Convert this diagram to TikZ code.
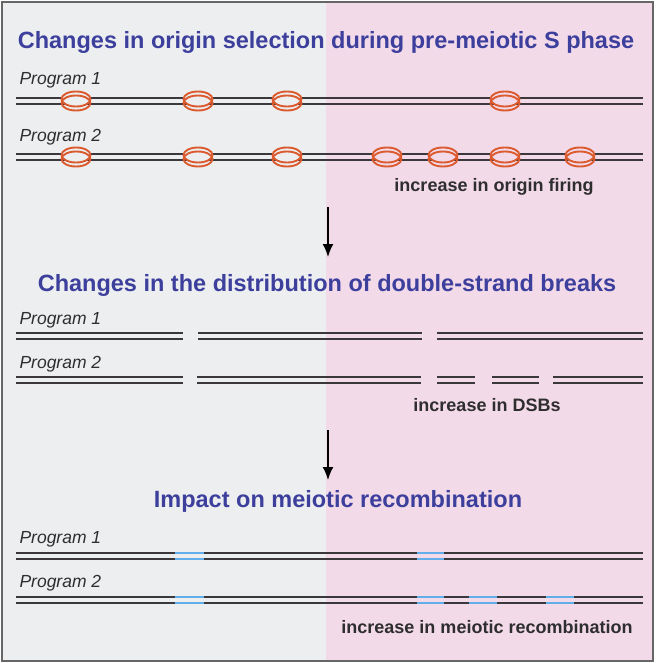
\documentclass[tikz,border=0pt]{standalone}
\usepackage{fontspec}
\setmainfont{Liberation Sans}
\usetikzlibrary{arrows.meta}

\definecolor{leftbg}{HTML}{EDEEF0}
\definecolor{rightbg}{HTML}{F3DAE9}
\definecolor{titleblue}{HTML}{3C3F9C}
\definecolor{strand}{HTML}{3A383A}
\definecolor{ori}{HTML}{DB5A2E}
\definecolor{xover}{HTML}{62AEEA}
\definecolor{txt}{HTML}{2E2E2E}

% two strands of one duplex: y, from x, to x
\newcommand{\duplex}[4][strand]{%
  \draw[strandline,#1] (#3,#2-3) -- (#4,#2-3);
  \draw[strandline,#1] (#3,#2+3) -- (#4,#2+3);}
% a fired origin: x, y, fill
\newcommand{\origin}[3]{%
  \filldraw[oriring,fill=#3] (#1,#2-2) ellipse (14.5 and 7.5);
  \draw[oriring] (#1,#2+2) ellipse (14.5 and 7.5);}

\begin{document}
\begin{tikzpicture}[x=1pt,y=-1pt,
    strandline/.style={line width=2.8pt},
    oriring/.style={draw=ori,line width=1.9pt},
    heading/.style={text=titleblue,font=\bfseries\fontsize{23.5}{28}\selectfont},
    prog/.style={text=txt,anchor=west,font=\itshape\fontsize{17.5}{20}\selectfont},
    note/.style={text=txt,font=\bfseries\fontsize{18}{21}\selectfont},
    step arrow/.style={line width=1.8pt,-{Latex[length=13pt,width=11pt]}}]
  \useasboundingbox (0,0) rectangle (655,663);
  \fill[leftbg] (2,2) rectangle (326,661);
  \fill[rightbg] (326,2) rectangle (653,661);
  \draw[line width=1.2pt,black!60] (2,2) rectangle (653,661);

  % origin selection
  \node[heading] (t1) at (326,42) {Changes in origin selection during pre-meiotic S phase};
  \node[prog] (o1) at (16,80) {Program 1};
  \node[prog] (o2) at (16,137) {Program 2};
  \duplex{101}{16}{643}
  \duplex{157}{16}{643}
  \foreach \x in {76,198,287} {\origin{\x}{101}{leftbg} \origin{\x}{157}{leftbg}}
  \origin{505}{101}{rightbg}
  \foreach \x in {387,443,505,580} {\origin{\x}{157}{rightbg}}
  \node[note] (n1) at (494,187) {increase in origin firing};

  \coordinate (a1) at (328,207);
  \coordinate (b1) at (328,257);
  \draw[step arrow] (a1) -- (b1);

  % double-strand breaks
  \node[heading] (t2) at (327,285) {Changes in the distribution of double-strand breaks};
  \node[prog] (d1) at (16,320) {Program 1};
  \node[prog] (d2) at (16,364) {Program 2};
  \duplex{336}{16}{183}
  \duplex{336}{198}{422}
  \duplex{336}{437}{643}
  \duplex{380}{16}{183}
  \duplex{380}{197}{421}
  \duplex{380}{437}{475}
  \duplex{380}{492}{539}
  \duplex{380}{553}{643}
  \node[note] (n2) at (487,405) {increase in DSBs};

  \coordinate (a2) at (328,430);
  \coordinate (b2) at (328,480);
  \draw[step arrow] (a2) -- (b2);

  % recombination
  \node[heading] (t3) at (338,501) {Impact on meiotic recombination};
  \node[prog] (r1) at (16,539) {Program 1};
  \node[prog] (r2) at (16,583) {Program 2};
  \duplex{556}{16}{643}
  \duplex{600}{16}{643}
  \foreach \a/\b in {175/204,417/444} {\duplex[xover]{556}{\a}{\b}}
  \foreach \a/\b in {175/204,417/444,469/497,546/574} {\duplex[xover]{600}{\a}{\b}}
  \node[note] (n3) at (487,627) {increase in meiotic recombination};
\end{tikzpicture}
\end{document}
